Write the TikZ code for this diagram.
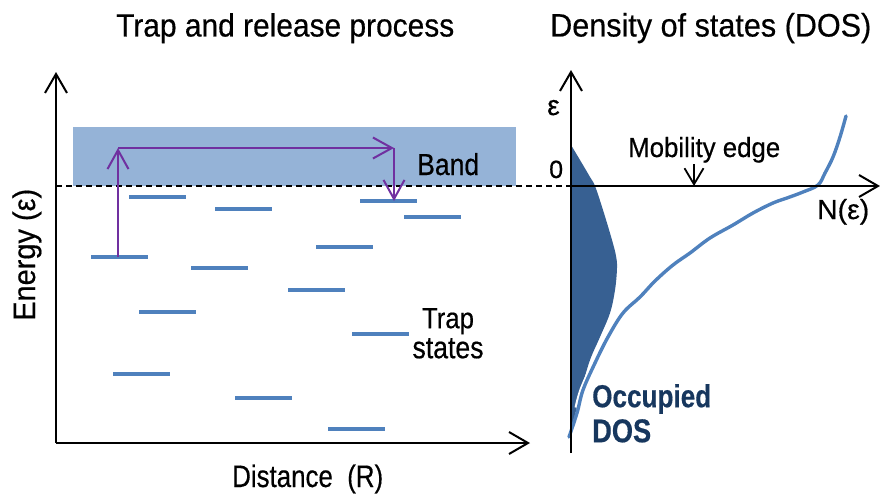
\documentclass[tikz,border=0pt]{standalone}
\usepackage{fontspec}
\setmainfont[FakeBold=0.5]{Liberation Sans}
\usepackage{graphicx}
\usetikzlibrary{arrows.meta}
\definecolor{bandc}{HTML}{95B3D7}
\definecolor{trapc}{HTML}{4F81BD}
\definecolor{purp}{HTML}{7030A0}
\definecolor{dosfill}{HTML}{376092}
\definecolor{navy}{HTML}{17375E}
\newcommand\fitt[3]{\resizebox{#1pt}{#2pt}{#3}}
\begin{document}
\begin{tikzpicture}[x=1pt,y=-1pt,
  axisline/.style={line width=2pt,-{Straight Barb[length=19pt,width=22pt]}},
  jump/.style={draw=purp,line width=2pt,-{Straight Barb[length=19pt,width=21pt]}},
  trap/.style={rectangle,fill=trapc,minimum width=57pt,minimum height=3.5pt,inner sep=0pt},
  lbl/.style={inner sep=0pt,anchor=base west},
]
\useasboundingbox (0,0) rectangle (880,495);

% ---------- left panel ----------
\node[fill=bandc,inner sep=0pt,anchor=north west,minimum width=443pt,minimum height=59pt] (band) at (73,127) {};

\coordinate (O1) at (56,443);
\coordinate (Ytop) at (56,72);
\coordinate (Xend) at (530,443);
\coordinate (dashL) at (56,186);
\coordinate (dashR) at (571,186);

\draw[line width=1.7pt,dash pattern=on 6pt off 4pt] (dashL) -- (dashR);

\node[trap] (t1) at (157.5,197) {};
\node[trap] (t2) at (243.5,209) {};
\node[trap] (t3) at (388.5,201) {};
\node[trap] (t4) at (432.5,217) {};
\node[trap] (t5) at (344.5,247) {};
\node[trap] (t6) at (119.5,257) {};
\node[trap] (t7) at (219.5,268) {};
\node[trap] (t8) at (316.5,290) {};
\node[trap] (t9) at (167.5,312) {};
\node[trap] (t10) at (380.5,334) {};
\node[trap] (t11) at (141.5,374) {};
\node[trap] (t12) at (263.5,398) {};
\node[trap] (t13) at (356.5,429) {};

\coordinate (jumpStart) at (118,257);
\coordinate (c1) at (118,148);
\coordinate (c2) at (394,148);
\coordinate (land) at (394,201);
\draw[jump] (jumpStart) -- (c1);
\draw[jump] (c1) -- (c2);
\draw[jump] (c2) -- (land);

\draw[axisline] (O1) -- (Ytop);
\draw[axisline] (O1) -- (Xend);

\node[lbl] (title1) at (116,36.5) {\fitt{338}{23.3}{Trap and release process}};
\node[lbl] (xlab) at (232,487) {\fitt{151}{22.5}{Distance~ (R)}};
\node[lbl,rotate=90] (ylab) at (35,321) {\fitt{132}{22.5}{Energy (ε)}};
\node[lbl] (bandlbl) at (417,175) {\fitt{62}{22}{Band}};
\node[inner sep=0pt,anchor=north,align=center,font=\fontsize{28}{30}\selectfont] (traplbl) at (448,308) {\fitt{52}{20}{Trap}\\\fitt{71}{20}{states}};

% ---------- right panel ----------
\coordinate (O2) at (571,453);
\coordinate (Etop) at (571,70);
\coordinate (zeroL) at (571,186);
\coordinate (Nend) at (880,186);
\coordinate (mobTop) at (694,164);
\coordinate (mobTip) at (694,186);

\fill[dosfill] plot[smooth,tension=0.6] coordinates {(571,145) (580,160) (590,177) (595,186) (603,210) (612,240) (616,256) (617,268) (615,290) (610,313) (600,337) (590,360) (582,387) (577,407) (569,437)} -- (571,437) -- cycle;

\draw[white,line width=7pt] plot[smooth,tension=0.6] coordinates {(690,253) (673,265) (655,281) (640,297) (623,313) (608,337) (595,363) (583,390) (578,408)};
\draw[trapc,line width=3.4pt,line cap=round] plot[smooth,tension=0.6] coordinates {(846,116) (840,137) (833,157) (825,173) (818,185) (803,192) (787,198) (773,203) (753,213) (733,225) (710,238) (690,253) (673,265) (655,281) (640,297) (623,313) (608,337) (595,363) (583,390) (577,413) (569,437)};

\draw[axisline] (O2) -- (Etop);
\draw[axisline] (zeroL) -- (Nend);
\draw[line width=1.8pt,-{Straight Barb[length=16pt,width=19pt]}] (mobTop) -- (mobTip);

\node[lbl] (title2) at (550,36.5) {\fitt{321}{23.5}{Density of states (DOS)}};
\node[lbl] (mob) at (628,157) {\fitt{152}{20}{Mobility edge}};
\node[lbl] (Neps) at (817,219) {\fitt{52}{20}{N(ε)}};
\node[lbl,font=\fontsize{28}{30}\selectfont] (epslbl) at (547,115) {ε};
\node[lbl,font=\fontsize{25}{30}\selectfont] (zero) at (549,178) {0};
\node[inner sep=0pt,anchor=north west,align=left,text=navy,font=\bfseries\fontsize{30}{35}\selectfont] (occ) at (592,384) {\fitt{119}{23}{Occupied}\\\fitt{59}{23}{DOS}};
\end{tikzpicture}
\end{document}
